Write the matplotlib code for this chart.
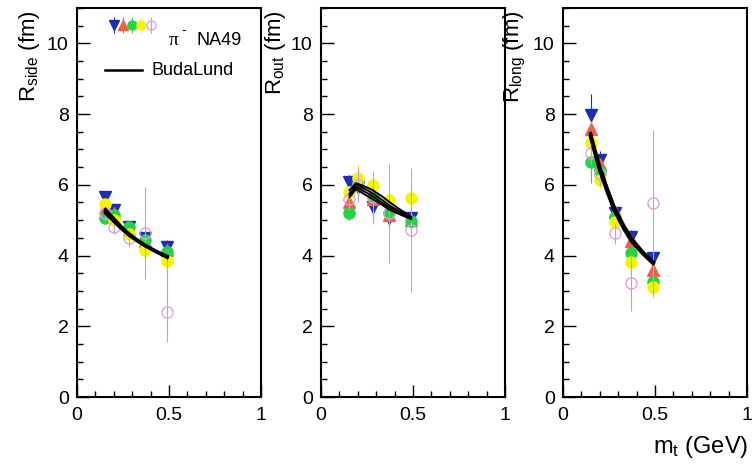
import numpy as np
import matplotlib
matplotlib.use("Agg")
import matplotlib.pyplot as plt
from matplotlib.ticker import MultipleLocator

plt.rcParams['font.family'] = ['Liberation Sans', 'DejaVu Sans']
plt.rcParams['mathtext.fontset'] = 'custom'
plt.rcParams['mathtext.rm'] = 'Liberation Sans'
plt.rcParams['mathtext.it'] = 'Liberation Sans:italic'
plt.rcParams['mathtext.bf'] = 'Liberation Sans:bold'

# m_t bins (GeV)
mt = [0.15, 0.20, 0.28, 0.37, 0.49]

# R_side (fm) per rapidity bin
side_blue = [5.65, 5.30, 4.80, 4.50, 4.25]
side_red = [5.35, 5.20, 4.75, 4.40, 4.15]
side_green = [5.05, 5.15, 4.80, 4.45, 4.10]
side_yellow = [5.45, 5.00, 4.60, 4.15, 3.85]
side_pink = [5.20, 4.80, 4.50, 4.65, 2.40]
side_err = [0.15, 0.15, 0.15, 0.2, 0.2]
side_pink_lo = [0.2, 0.2, 0.25, 1.3, 0.85]
side_pink_hi = [0.2, 0.2, 0.25, 1.3, 1.6]

# R_out (fm)
out_blue = [6.07, 5.95, 5.37, 5.06, 5.05]
out_red = [5.50, 6.00, 5.60, 5.14, 5.00]
out_green = [5.20, 6.05, 5.65, 5.20, 4.97]
out_yellow = [5.80, 6.20, 5.99, 5.56, 5.62]
out_pink = [5.60, 6.00, 5.65, 5.20, 4.72]
out_err = [0.2, 0.35, 0.3, 0.3, 0.3]
out_pink_lo = [0.3, 0.5, 0.75, 1.4, 1.75]
out_pink_hi = [0.3, 0.5, 0.75, 1.4, 1.75]

# R_long (fm)
long_blue = [7.97, 6.70, 5.20, 4.52, 3.93]
long_red = [7.57, 6.60, 5.23, 4.40, 3.59]
long_green = [6.64, 6.40, 5.10, 4.07, 3.25]
long_yellow = [7.17, 6.15, 4.94, 3.81, 3.10]
long_pink = [6.90, 6.30, 4.63, 3.22, 5.48]
long_err = [0.6, 0.25, 0.2, 0.2, 0.2]
long_pink_lo = [0.3, 0.3, 0.3, 0.8, 2.66]
long_pink_hi = [0.3, 0.3, 0.3, 0.8, 2.06]

# BudaLund fit curves
fit_mt = [0.155, 0.20, 0.24, 0.28, 0.33, 0.37, 0.43, 0.49]
fit_side = [[5.30, 5.04, 4.82, 4.62, 4.43, 4.29, 4.11, 3.95],
            [5.25, 5.00, 4.79, 4.60, 4.41, 4.28, 4.11, 3.96],
            [5.20, 4.97, 4.77, 4.59, 4.41, 4.28, 4.12, 3.98]]
fit_out_mt = [0.155, 0.19, 0.24, 0.28, 0.33, 0.37, 0.43, 0.49]
fit_out = [[5.85, 6.05, 5.95, 5.85, 5.68, 5.52, 5.30, 5.10],
           [5.75, 6.02, 5.88, 5.76, 5.58, 5.42, 5.24, 5.08],
           [5.70, 5.95, 5.80, 5.68, 5.50, 5.36, 5.20, 5.05],
           [5.65, 5.88, 5.72, 5.60, 5.44, 5.30, 5.16, 5.03]]
fit_long_mt = [0.15, 0.175, 0.20, 0.24, 0.28, 0.33, 0.37, 0.43, 0.49]
fit_long = [[7.45, 6.95, 6.50, 5.90, 5.35, 4.85, 4.50, 4.12, 3.82],
            [7.40, 6.90, 6.45, 5.85, 5.30, 4.80, 4.45, 4.10, 3.80],
            [7.35, 6.85, 6.40, 5.80, 5.26, 4.76, 4.42, 4.07, 3.77]]
fit_lw = [2.4, 1.4, 2.4]

colors = ['#1a2fb5', '#f0604a', '#22d448', '#f6f600']
markers = ['v', '^', 'o', 'o']
pink = '#e0a0e0'

fig = plt.figure(figsize=(7.54, 4.68), dpi=100)
W, H = 754.0, 468.0
lefts = [77, 321, 563]
width = 184
top, bottom = 8, 397

panels = [
    ([side_blue, side_red, side_green, side_yellow], side_err, side_pink, side_pink_lo, side_pink_hi, fit_mt, fit_side),
    ([out_blue, out_red, out_green, out_yellow], out_err, out_pink, out_pink_lo, out_pink_hi, fit_out_mt, fit_out),
    ([long_blue, long_red, long_green, long_yellow], long_err, long_pink, long_pink_lo, long_pink_hi, fit_long_mt, fit_long),
]
ylabels = [r'R$_{\mathrm{side}}$ (fm)', r'R$_{\mathrm{out}}$ (fm)', r'R$_{\mathrm{long}}$ (fm)']
ylabel_x = [30, 276, 515]

axes = []
for i, (series, err, pk, pk_lo, pk_hi, fx, fits) in enumerate(panels):
    ax = fig.add_axes([lefts[i] / W, 1 - bottom / H, width / W, (bottom - top) / H])
    axes.append(ax)
    for vals, c, m in zip(series, colors, markers):
        ax.errorbar(mt, vals, yerr=err, fmt=m, color=c, ms=8, mec=c,
                    elinewidth=0.8, ecolor=c, capsize=0, zorder=3)
    ax.errorbar(mt, pk, yerr=[pk_lo, pk_hi], fmt='o', ms=8, mfc='none', mec=pink,
                mew=1.0, elinewidth=0.8, ecolor='#b8a8b8', capsize=0, zorder=4)
    for f in fits:
        ax.plot(fx, f, color='black', lw=fit_lw[i], zorder=5)
    ax.set_xlim(0, 1)
    ax.set_ylim(0, 11)
    ax.set_xticks([0, 0.5, 1])
    ax.set_xticklabels(['0', '0.5', '1'])
    ax.set_yticks([0, 2, 4, 6, 8, 10])
    ax.xaxis.set_minor_locator(MultipleLocator(0.1))
    ax.yaxis.set_minor_locator(MultipleLocator(0.5))
    ax.tick_params(which='both', direction='in', top=False, right=False, labelsize=14, width=1)
    ax.tick_params(axis='y', which='major', length=9, pad=6)
    ax.tick_params(axis='x', which='major', length=9, pad=7)
    ax.tick_params(which='minor', length=4.5)
    for s in ax.spines.values():
        s.set_linewidth(1.5)
    fig.text(ylabel_x[i] / W, 1 - 10 / H, ylabels[i], rotation=90, ha='center', va='top', fontsize=16)

# legend (panel 1)
ax = axes[0]
leg_x = [0.20, 0.25, 0.30, 0.35]
for x, c, m in zip(leg_x, colors, markers):
    ax.errorbar([x], [0.956], yerr=[0.02], fmt=m, color=c, ms=6.5, ecolor=c,
                elinewidth=0.8, transform=ax.transAxes, clip_on=False, zorder=6)
ax.errorbar([0.40], [0.956], yerr=[0.02], fmt='o', ms=6.5, mfc='none', mec=pink,
            ecolor='#b8a8b8', elinewidth=0.8, transform=ax.transAxes, clip_on=False, zorder=6)
ax.text(0.500, 0.905, 'π', transform=ax.transAxes, family='Liberation Serif',
        fontsize=14, va='baseline', ha='left')
ax.text(0.568, 0.932, '-', transform=ax.transAxes, fontsize=10, va='baseline', ha='left')
ax.text(0.650, 0.905, 'NA49', transform=ax.transAxes, fontsize=13, va='baseline', ha='left')
ax.plot([0.151, 0.351], [0.84, 0.84], color='black', lw=1.8, transform=ax.transAxes)
ax.text(0.405, 0.84, 'BudaLund', transform=ax.transAxes, fontsize=13, va='center', ha='left')

fig.text(748 / W, 1 - 447 / H, r'm$_{\mathrm{t}}$ (GeV)', ha='right', va='center', fontsize=17)

fig.savefig("out.png", dpi=100)
